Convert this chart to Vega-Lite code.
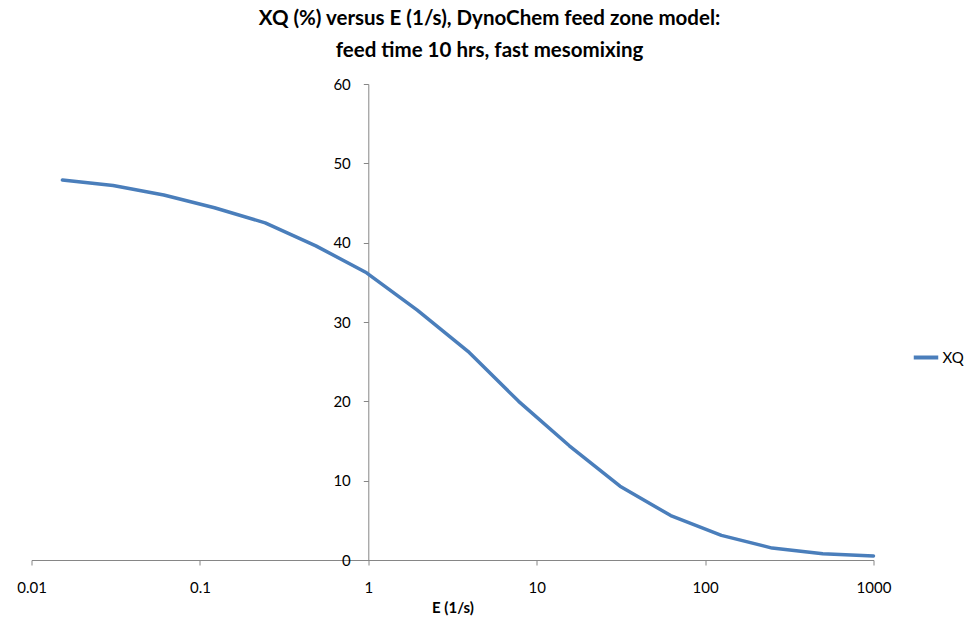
{
  "$schema": "https://vega.github.io/schema/vega-lite/v6.json",
  "autosize": "none",
  "width": 842,
  "height": 476,
  "padding": {"left": 31.5, "top": 84, "right": 105.5, "bottom": 80},
  "background": "white",
  "title": {
    "text": ["XQ (%) versus E (1/s), DynoChem feed zone model:", "feed time 10 hrs, fast mesomixing"],
    "anchor": "middle",
    "frame": "group",
    "dx": 37,
    "offset": 16,
    "font": "Lato",
    "fontSize": 20.5,
    "fontWeight": "bold",
    "lineHeight": 32,
    "color": "black"
  },
  "config": {
    "view": {"stroke": null},
    "font": "Lato"
  },
  "data": {
    "values": [
      {"E": 0.0152588, "XQ": 47.9, "series": "XQ"},
      {"E": 0.0305176, "XQ": 47.2, "series": "XQ"},
      {"E": 0.0610352, "XQ": 46.0, "series": "XQ"},
      {"E": 0.1220703, "XQ": 44.4, "series": "XQ"},
      {"E": 0.2441406, "XQ": 42.5, "series": "XQ"},
      {"E": 0.4882813, "XQ": 39.6, "series": "XQ"},
      {"E": 0.9765625, "XQ": 36.2, "series": "XQ"},
      {"E": 1.953125, "XQ": 31.5, "series": "XQ"},
      {"E": 3.90625, "XQ": 26.3, "series": "XQ"},
      {"E": 7.8125, "XQ": 20.0, "series": "XQ"},
      {"E": 15.625, "XQ": 14.4, "series": "XQ"},
      {"E": 31.25, "XQ": 9.3, "series": "XQ"},
      {"E": 62.5, "XQ": 5.6, "series": "XQ"},
      {"E": 125, "XQ": 3.1, "series": "XQ"},
      {"E": 250, "XQ": 1.5, "series": "XQ"},
      {"E": 500, "XQ": 0.8, "series": "XQ"},
      {"E": 1000, "XQ": 0.5, "series": "XQ"}
    ]
  },
  "mark": {"type": "line", "strokeWidth": 3.5, "strokeJoin": "round", "strokeCap": "round"},
  "encoding": {
    "x": {
      "field": "E",
      "type": "quantitative",
      "scale": {"type": "log", "domain": [0.01, 1000], "nice": false},
      "axis": {
        "title": "E (1/s)",
        "titleFont": "Lato",
        "titleFontSize": 15,
        "titleFontWeight": "bold",
        "titleColor": "black",
        "titlePadding": 5,
        "values": [0.01, 0.1, 1, 10, 100, 1000],
        "format": "~g",
        "labelFont": "Lato",
        "labelFontSize": 15,
        "labelColor": "black",
        "labelPadding": 15,
        "labelFlush": false,
        "domainColor": "#868686",
        "tickColor": "#868686",
        "tickSize": 5,
        "grid": false
      }
    },
    "y": {
      "field": "XQ",
      "type": "quantitative",
      "scale": {"domain": [0, 60], "nice": false},
      "axis": {
        "title": null,
        "values": [0, 10, 20, 30, 40, 50, 60],
        "offset": -336.8,
        "labelFont": "Lato",
        "labelFontSize": 15,
        "labelColor": "black",
        "labelPadding": 13,
        "domainColor": "#868686",
        "tickColor": "#868686",
        "tickSize": 5,
        "grid": false
      }
    },
    "color": {
      "field": "series",
      "type": "nominal",
      "scale": {"range": ["#4A7EBB"]},
      "legend": {
        "title": null,
        "orient": "none",
        "legendX": 880,
        "legendY": 259,
        "symbolType": "stroke",
        "symbolStrokeWidth": 4,
        "symbolSize": 600,
        "labelFont": "Lato",
        "labelFontSize": 15,
        "labelColor": "black",
        "labelOffset": 2
      }
    }
  }
}
